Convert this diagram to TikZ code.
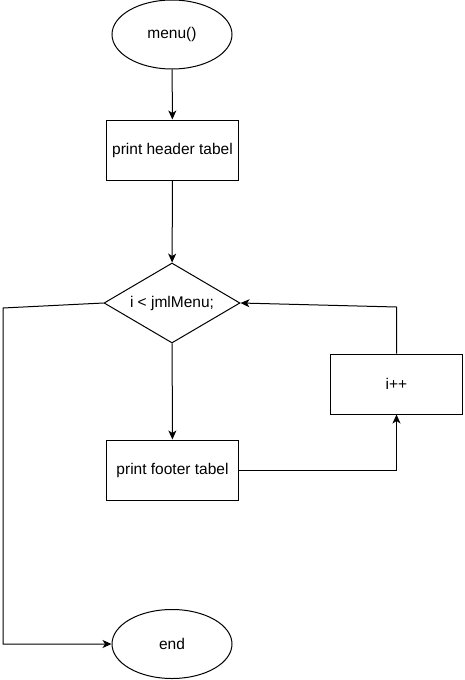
\documentclass[tikz,border=0pt]{standalone}
\usepackage{fontspec}
\setmainfont{Liberation Sans}
\usetikzlibrary{shapes.geometric,arrows.meta}
\tikzset{
  base/.style={draw, line width=1pt, inner sep=0pt, font=\fontsize{15.5}{18}\selectfont},
  ell/.style={base, ellipse, minimum width=120pt, minimum height=69pt},
  box/.style={base, rectangle, minimum width=132pt, minimum height=60pt},
  cond/.style={base, diamond, aspect=1.7, minimum width=136pt, minimum height=80pt},
  arr/.style={line width=1pt, -{Stealth[length=9pt,width=8pt,inset=2.5pt]}}
}
\begin{document}
\begin{tikzpicture}[x=1pt,y=-1pt]
    \useasboundingbox (0,0) rectangle (464,680);
    \node[ell] (menu) at (172,34.5) {menu()};
    \node[box] (header) at (172.5,150) {print header tabel};
    \node[cond] (loop) at (172,303) {i < jmlMenu;};
    \node[box] (footer) at (172.5,470) {print footer tabel};
    \node[box] (inc) at (396.5,384) {i++};
    \node[ell] (end) at (172,644) {end};
    \coordinate (up) at (396.5,307);
    \coordinate (out) at (3,308);
    \draw[arr] (menu) -- (header);
    \draw[arr] (header) -- (loop);
    \draw[arr] (loop) -- (footer);
    \draw[arr] (footer.east) -| (inc.south);
    \draw[arr] (inc.north) -- (up) -- (loop.east);
    \draw[arr] (loop.west) -- (out) |- (end.west);
\end{tikzpicture}
\end{document}
